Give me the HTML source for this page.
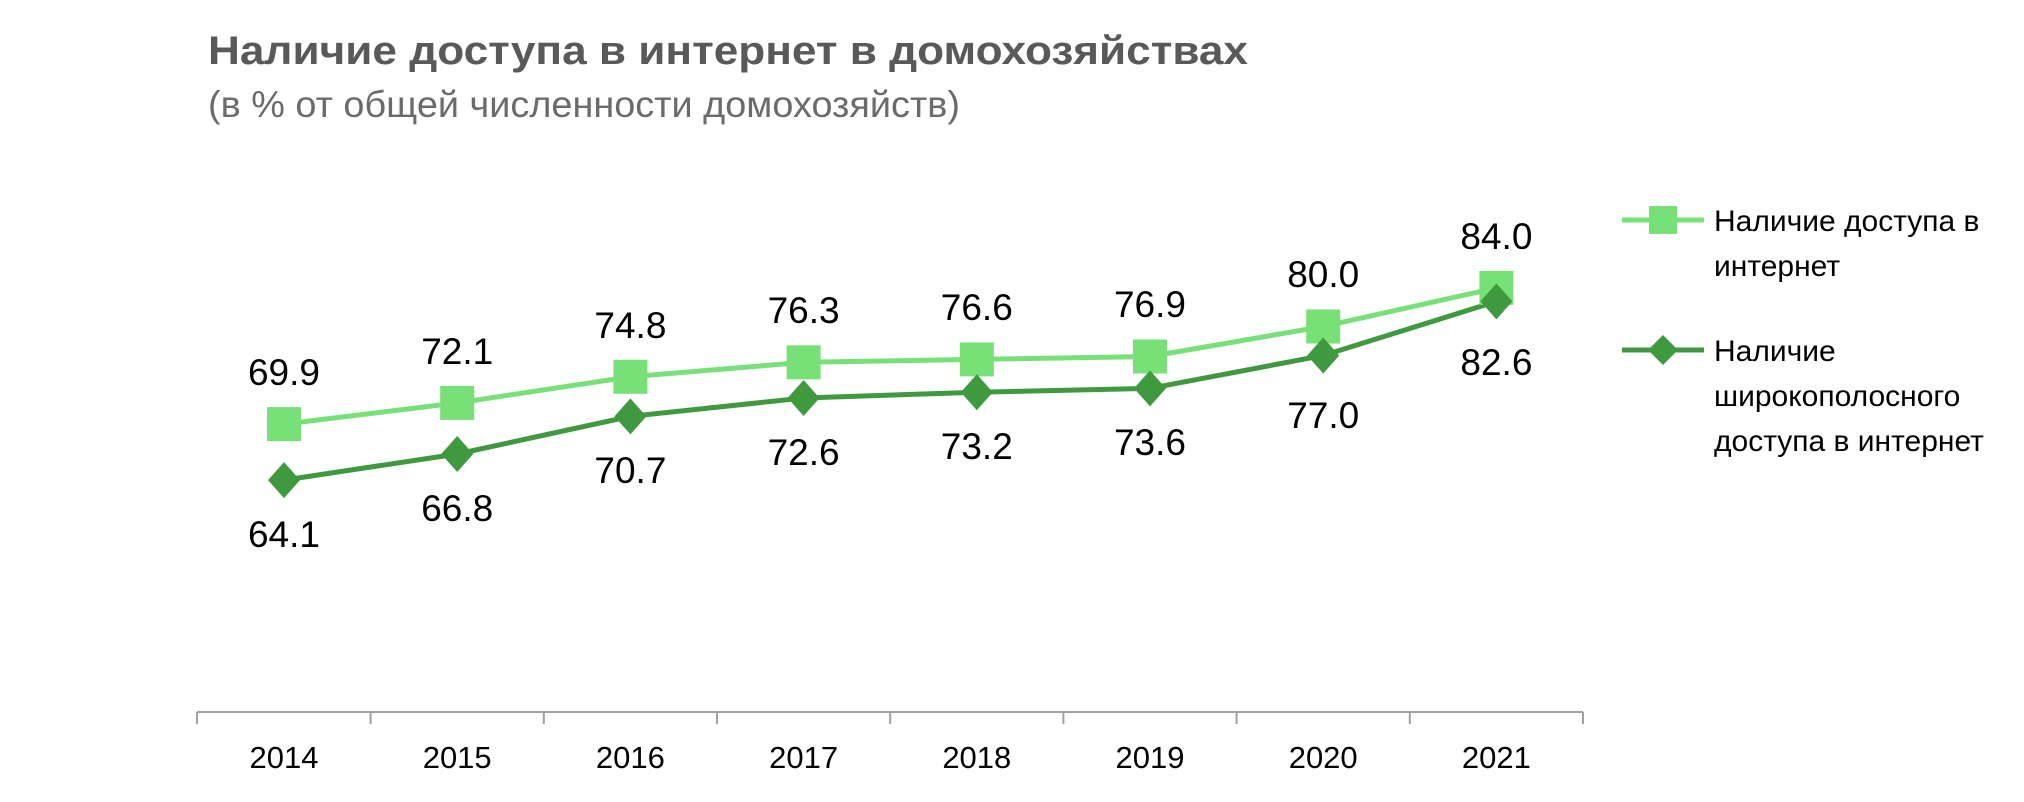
<!DOCTYPE html>
<html><head><meta charset="utf-8"><style>
html,body{margin:0;padding:0;background:#fff;}
svg{display:block;}
text{font-family:"Liberation Sans",sans-serif;}
</style></head><body>
<svg width="2024" height="802" viewBox="0 0 2024 802" xmlns="http://www.w3.org/2000/svg">
<text x="208" y="64" font-size="40" font-weight="bold" fill="#595959" textLength="1040" lengthAdjust="spacingAndGlyphs">Наличие доступа в интернет в домохозяйствах</text>
<text x="208" y="117" font-size="37" fill="#6b6b6b" textLength="752" lengthAdjust="spacingAndGlyphs">(в % от общей численности домохозяйств)</text>
<g stroke="#a0a0a0" stroke-width="2">
<line x1="197" y1="712" x2="1583" y2="712"/>
<line x1="197" y1="712" x2="197" y2="724"/><line x1="370.6" y1="712" x2="370.6" y2="724"/>
<line x1="543.8" y1="712" x2="543.8" y2="724"/><line x1="717" y1="712" x2="717" y2="724"/>
<line x1="890.2" y1="712" x2="890.2" y2="724"/><line x1="1063.4" y1="712" x2="1063.4" y2="724"/>
<line x1="1236.6" y1="712" x2="1236.6" y2="724"/><line x1="1409.8" y1="712" x2="1409.8" y2="724"/>
<line x1="1583" y1="712" x2="1583" y2="724"/>
</g>
<g font-size="31" fill="#000" text-anchor="middle">
<text x="284" y="768">2014</text><text x="457.2" y="768">2015</text><text x="630.4" y="768">2016</text><text x="803.6" y="768">2017</text><text x="976.8" y="768">2018</text><text x="1150" y="768">2019</text><text x="1323.2" y="768">2020</text><text x="1496.4" y="768">2021</text>
</g>
<polyline fill="none" stroke="#77e077" stroke-width="5" points="284,424.1 457.2,402.9 630.4,376.8 803.6,362.3 976.8,359.4 1150,356.5 1323.2,326.5 1496.4,287.9"/>
<polyline fill="none" stroke="#3f9a3f" stroke-width="5" points="284,480.1 457.2,454 630.4,416.4 803.6,398 976.8,392.2 1150,388.4 1323.2,355.5 1496.4,301.4"/>
<g fill="#77e077">
<rect x="267" y="407.1" width="34" height="34"/><rect x="440.2" y="385.9" width="34" height="34"/><rect x="613.4" y="359.8" width="34" height="34"/><rect x="786.6" y="345.3" width="34" height="34"/><rect x="959.8" y="342.4" width="34" height="34"/><rect x="1133" y="339.5" width="34" height="34"/><rect x="1306.2" y="309.5" width="34" height="34"/><rect x="1479.4" y="270.9" width="34" height="34"/>
</g>
<g fill="#3f9a3f">
<path d="M284 462.1l16 18-16 18-16-18z"/><path d="M457.2 436l16 18-16 18-16-18z"/><path d="M630.4 398.4l16 18-16 18-16-18z"/><path d="M803.6 380l16 18-16 18-16-18z"/><path d="M976.8 374.2l16 18-16 18-16-18z"/><path d="M1150 370.4l16 18-16 18-16-18z"/><path d="M1323.2 337.5l16 18-16 18-16-18z"/><path d="M1496.4 283.4l16 18-16 18-16-18z"/>
</g>
<g font-size="37" fill="#000" text-anchor="middle">
<text x="284" y="385">69.9</text><text x="457.2" y="364">72.1</text><text x="630.4" y="338">74.8</text><text x="803.6" y="323">76.3</text><text x="976.8" y="320">76.6</text><text x="1150" y="317">76.9</text><text x="1323.2" y="287">80.0</text><text x="1496.4" y="249">84.0</text>
<text x="284" y="547">64.1</text><text x="457.2" y="521">66.8</text><text x="630.4" y="483">70.7</text><text x="803.6" y="465">72.6</text><text x="976.8" y="459">73.2</text><text x="1150" y="455">73.6</text><text x="1323.2" y="428">77.0</text><text x="1496.4" y="375">82.6</text>
</g>
<line x1="1622" y1="220" x2="1704" y2="220" stroke="#77e077" stroke-width="5"/>
<rect x="1649" y="206" width="28" height="28" fill="#77e077"/>
<line x1="1622" y1="350" x2="1704" y2="350" stroke="#3f9a3f" stroke-width="5"/>
<path d="M1663 335l15 15-15 15-15-15z" fill="#3f9a3f"/>
<g font-size="30" fill="#000">
<text x="1714" y="231">Наличие доступа в</text><text x="1714" y="276">интернет</text>
<text x="1714" y="361">Наличие</text><text x="1714" y="406">широкополосного</text><text x="1714" y="451">доступа в интернет</text>
</g>
</svg>
</body></html>
